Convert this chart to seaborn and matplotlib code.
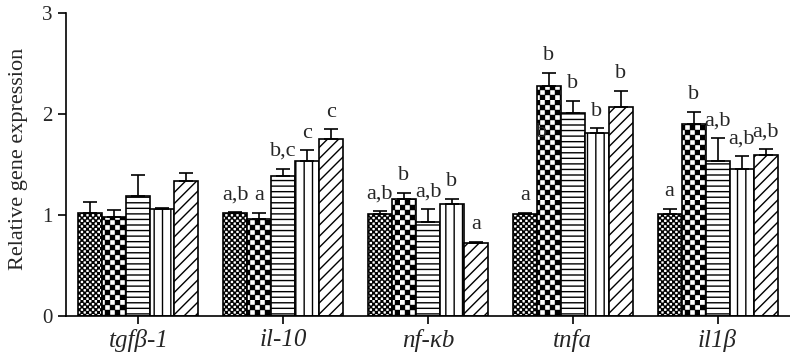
import numpy as np
import pandas as pd
import matplotlib
matplotlib.use("Agg")
import matplotlib.pyplot as plt
import matplotlib.hatch as mhatch
from matplotlib.path import Path
import seaborn as sns

# data
genes = ["tgfβ-1", "il-10", "nf-κb", "tnfa", "il1β"]
groups = ["group 1", "group 2", "group 3", "group 4", "group 5"]

tgfb1 = [1.02, 0.98, 1.19, 1.06, 1.34]
il10 = [1.02, 0.96, 1.39, 1.53, 1.75]
nfkb = [1.01, 1.16, 0.93, 1.11, 0.72]
tnfa = [1.01, 2.28, 2.01, 1.81, 2.07]
il1b = [1.01, 1.90, 1.53, 1.46, 1.59]

tgfb1_err = [0.11, 0.07, 0.21, 0.01, 0.08]
il10_err = [0.01, 0.06, 0.07, 0.11, 0.10]
nfkb_err = [0.03, 0.06, 0.13, 0.05, 0.015]
tnfa_err = [0.01, 0.13, 0.12, 0.05, 0.16]
il1b_err = [0.05, 0.12, 0.23, 0.12, 0.06]

tgfb1_sig = ["", "", "", "", ""]
il10_sig = ["a,b", "a", "b,c", "c", "c"]
nfkb_sig = ["a,b", "b", "a,b", "b", "a"]
tnfa_sig = ["a", "b", "b", "b", "b"]
il1b_sig = ["a", "b", "a,b", "a,b", "a,b"]

values = [tgfb1, il10, nfkb, tnfa, il1b]
errors = [tgfb1_err, il10_err, nfkb_err, tnfa_err, il1b_err]
sigs = [tgfb1_sig, il10_sig, nfkb_sig, tnfa_sig, il1b_sig]

DPI = 100


# checkerboard fill: replace the '*' star hatch with a grid of filled squares
# '*' -> coarse board, '**' -> fine board
class Checker(mhatch.HatchPatternBase):
    def __init__(self, hatch, density):
        n = hatch.count('*')
        self.m = {0: 0, 1: 20}.get(n, 36)
        self.num_vertices = (self.m * self.m // 2) * 5

    def set_vertices_and_codes(self, vertices, codes):
        m = self.m
        c = 1.0 / m
        ins = 0.5 / DPI  # the hatch stroke widens every square a bit
        k = 0
        for i in range(m):
            for j in range(m):
                if (i + j) % 2:
                    continue
                x0, y0 = i * c + ins, j * c + ins
                x1, y1 = (i + 1) * c - ins, (j + 1) * c - ins
                vertices[k:k + 5] = [(x0, y0), (x1, y0), (x1, y1), (x0, y1), (x0, y0)]
                codes[k:k + 5] = [Path.MOVETO, Path.LINETO, Path.LINETO,
                                  Path.LINETO, Path.CLOSEPOLY]
                k += 5


mhatch._hatch_types = [Checker if t is mhatch.Stars else t for t in mhatch._hatch_types]

df = pd.DataFrame({
    "gene": np.repeat(genes, len(groups)),
    "group": groups * len(genes),
    "value": np.concatenate(values),
    "err": np.concatenate(errors),
    "sig": np.concatenate(sigs),
})

sns.set_style("ticks")
plt.rcParams["font.family"] = ["Liberation Serif", "DejaVu Serif"]
plt.rcParams["hatch.linewidth"] = 1.0

fig = plt.figure(figsize=(7.9, 3.57), dpi=DPI)
ax = fig.add_axes([66 / 790, 41 / 357, 724 / 790, 303 / 357])

sns.barplot(data=df, x="gene", y="value", hue="group", order=genes,
            hue_order=groups, width=0.83, palette=["white"] * 5, saturation=1,
            edgecolor="black", linewidth=1.2, errorbar=None, legend=False, ax=ax)

hatches = ["**", "*", "---", "||", "///"]
for cont, h in zip(ax.containers, hatches):
    for bar in cont:
        bar.set_hatch(h)

# error bars (upper only) and significance letters
for cont, grp in zip(ax.containers, groups):
    sub = df[df["group"] == grp].set_index("gene").loc[genes]
    xs = [b.get_x() + b.get_width() / 2 for b in cont]
    ax.errorbar(xs, sub["value"], yerr=[np.zeros(len(xs)), sub["err"]], fmt="none",
                ecolor="black", elinewidth=1.2, capsize=5, capthick=1.2, zorder=3)
    for x, v, e, s in zip(xs, sub["value"], sub["err"], sub["sig"]):
        if s:
            ax.annotate(s, (x, v + e), xytext=(0, 9), textcoords="offset points",
                        ha="center", va="baseline", fontsize=16)

# stray letter printed inside the tnfa bar in the original
tn_bar = ax.containers[1][3]
ax.annotate("b", (tn_bar.get_x() + tn_bar.get_width() * 0.2, tnfa[1]),
            xytext=(0, -37), textcoords="offset points", ha="center",
            va="baseline", fontsize=16, zorder=4)

ax.set_ylim(0, 3)
ax.set_xlim(-0.5, 4.5)
ax.set_yticks([0, 1, 2, 3])
ax.set_xlabel("")
ax.set_ylabel("Relative gene expression", fontsize=16)
ax.yaxis.set_label_coords(-0.053, 0.52)
ax.tick_params(axis="both", labelsize=15, width=1.2, length=6, color="black")
ax.tick_params(axis="x", labelsize=18, pad=3)
for lbl in ax.get_xticklabels():
    lbl.set_style("italic")
for sp in ["left", "bottom"]:
    ax.spines[sp].set_linewidth(1.2)
    ax.spines[sp].set_color("black")
sns.despine(ax=ax)

fig.savefig("out.png", dpi=DPI)
